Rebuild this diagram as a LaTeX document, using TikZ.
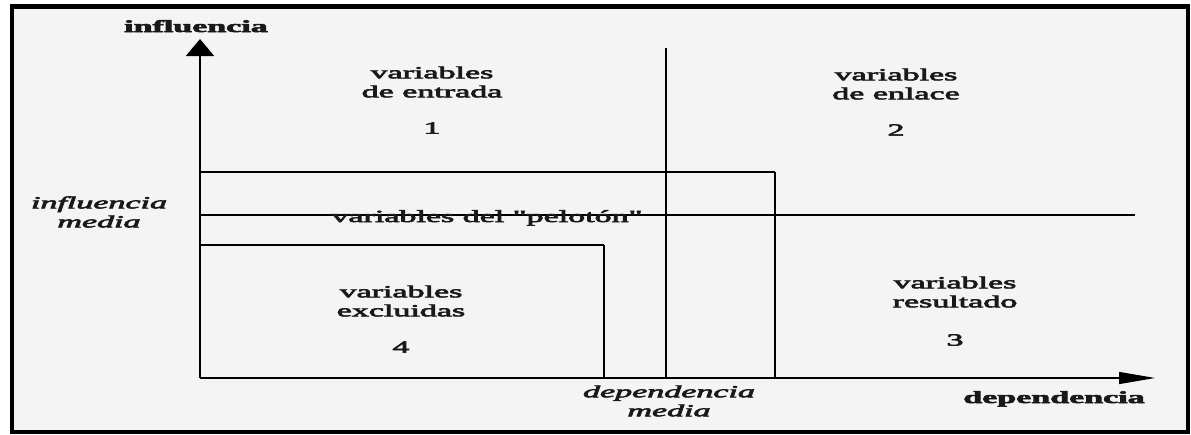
\documentclass[tikz,border=0pt]{standalone}
\usepackage{fontspec}
\setmainfont{Liberation Serif}[Ligatures=TeXOff,FakeBold=3]
\usetikzlibrary{arrows.meta}
\definecolor{paper}{RGB}{244,244,244}
\definecolor{ink}{RGB}{25,25,25}

\begin{document}
\begin{tikzpicture}[x=1pt,y=-1pt,
    hline/.style={line width=1.2pt},
    vline/.style={line width=1.8pt},
    every node/.style={xscale=2,inner sep=0pt,align=center,text=ink,font=\fontsize{17}{19}\selectfont}]
    % constants
    \def\xAxis{200}
    \def\yAxis{378}
    \def\xMid{666}
    \def\yMid{215}
    \def\xPel{775}
    \def\yPel{172}
    \def\xExc{604}
    \def\yExc{245}
    \def\xEnd{1135}
    % frame
    \useasboundingbox (0,0) rectangle (1191,434);
    \draw [line width=4.5pt,fill=paper] (12,6.5) rectangle (1188,432);
    % axis points
    \coordinate (O) at (\xAxis,\yAxis);
    \coordinate (Ytip) at (\xAxis,39);
    \coordinate (Xtip) at (1155,\yAxis);
    % median lines
    \coordinate (midTop) at (\xMid,48);
    \coordinate (midBot) at (\xMid,\yAxis);
    \coordinate (midLeft) at (\xAxis,\yMid);
    \coordinate (midRight) at (\xEnd,\yMid);
    % box corners
    \coordinate (pelLeft) at (\xAxis,\yPel);
    \coordinate (pelCorner) at (\xPel,\yPel);
    \coordinate (pelBot) at (\xPel,\yAxis);
    \coordinate (excLeft) at (\xAxis,\yExc);
    \coordinate (excCorner) at (\xExc,\yExc);
    \coordinate (excBot) at (\xExc,\yAxis);
    % axes
    \draw [vline,-{Triangle[width=28pt,length=17pt]}] (O) -- (Ytip);
    \draw [hline,-{Triangle[length=36pt,width=12pt]}] (O) -- (Xtip);
    % median lines
    \draw [vline] (midTop) -- (midBot);
    \draw [hline] (midLeft) -- (midRight);
    % boxes
    \draw [hline] (pelLeft) -- (pelCorner);
    \draw [vline] (pelCorner) -- (pelBot);
    \draw [hline] (excLeft) -- (excCorner);
    \draw [vline] (excCorner) -- (excBot);
    % axis labels
    \node [anchor=base,font=\fontsize{17}{19}\selectfont\bfseries] (infl) at (196,32) {influencia};
    \node [anchor=base,font=\fontsize{17}{19}\selectfont\bfseries] (dep) at (1054,403) {dependencia};
    \node [font=\fontsize{17}{19}\selectfont\itshape] (inflMed) at (99,212) {influencia\\media};
    \node [font=\fontsize{17}{19}\selectfont\itshape] (depMed) at (669,401) {dependencia\\media};
    % quadrant labels
    \node (entrada) at (432,82) {variables\\de entrada};
    \node (one) at (432,128) {1};
    \node (enlace) at (896,84) {variables\\de enlace};
    \node (two) at (896,130) {2};
    \node (resultado) at (955,292) {variables\\resultado};
    \node (three) at (955,340) {3};
    \node (excluidas) at (401,301) {variables\\excluidas};
    \node (four) at (401,347) {4};
    \node [anchor=base] (peloton) at (487,222) {variables del "pelotón"};
\end{tikzpicture}
\end{document}
